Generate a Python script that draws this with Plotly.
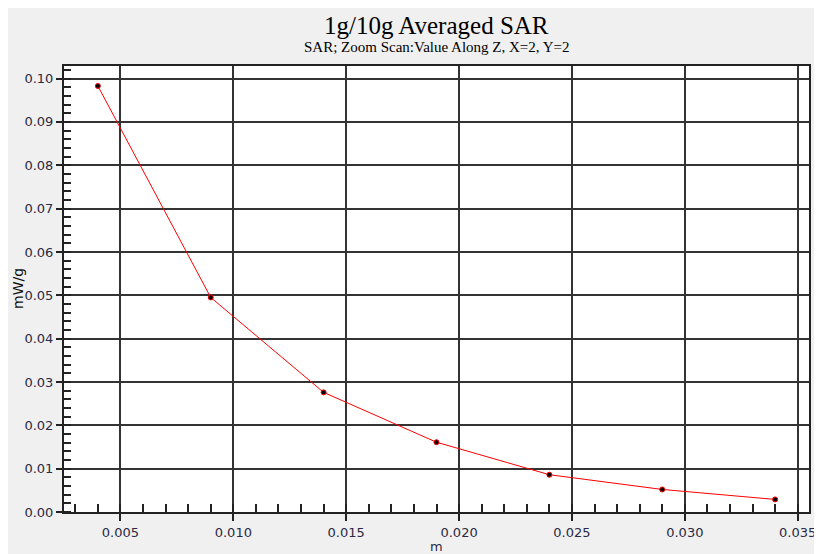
import plotly.graph_objects as go

# Data
depth_m = [0.004, 0.009, 0.014, 0.019, 0.024, 0.029, 0.034]
sar_mw_g = [0.0983, 0.0495, 0.0276, 0.0161, 0.0086, 0.0052, 0.0029]

title_text = "1g/10g Averaged SAR"
subtitle_text = "SAR; Zoom Scan:Value Along Z, X=2, Y=2"
x_title = "m"
y_title = "mW/g"

W, H = 830, 560
L, R, T, B = 56, 29, 58, 56
pw, ph = W - L - R, H - T - B

def px_x(p):
    return (p - L) / pw

def px_y(p):
    return (H - B - p) / ph

fig = go.Figure()
fig.add_trace(go.Scatter(
    x=depth_m, y=sar_mw_g, mode="lines+markers",
    line=dict(color="#ff0000", width=1),
    marker=dict(color="#000000", size=5, line=dict(color="#ff0000", width=1)),
    showlegend=False, cliponaxis=False,
))

tickfont = dict(family="DejaVu Sans, Verdana, sans-serif", size=13, color="#2a2a44")

fig.update_layout(
    width=W, height=H,
    margin=dict(l=L, r=R, t=T, b=B, autoexpand=False),
    paper_bgcolor="#f0f0f0",
    plot_bgcolor="#ffffff",
    showlegend=False,
    xaxis=dict(
        range=[0.0025, 0.0355], tick0=0, dtick=0.005, tickformat=".3f",
        ticks="outside", ticklen=7, tickwidth=1.5, tickcolor="#222222",
        showgrid=True, gridcolor="#333333", gridwidth=1.5,
        showline=True, linecolor="#222222", linewidth=2, mirror=True,
        zeroline=False, tickfont=tickfont,
        minor=dict(dtick=0.001, tick0=0, ticks="inside", ticklen=8,
                   tickwidth=1.5, tickcolor="#222222", showgrid=False),
    ),
    yaxis=dict(
        range=[0, 0.1029], tick0=0, dtick=0.01, tickformat=".2f",
        ticks="outside", ticklen=6, tickwidth=1.5, tickcolor="#222222",
        showgrid=True, gridcolor="#333333", gridwidth=1.5,
        showline=True, linecolor="#222222", linewidth=2, mirror=True,
        zeroline=False, tickfont=tickfont,
        minor=dict(dtick=0.002, tick0=0, ticks="inside", ticklen=7,
                   tickwidth=1.5, tickcolor="#222222", showgrid=False),
    ),
    annotations=[
        dict(text=title_text, xref="paper", yref="paper", x=px_x(428.5), y=px_y(17),
             xanchor="center", yanchor="middle", showarrow=False,
             font=dict(family="Liberation Serif, Times New Roman, serif", size=25, color="#000000")),
        dict(text=subtitle_text, xref="paper", yref="paper", x=px_x(428.5), y=px_y(39),
             xanchor="center", yanchor="middle", showarrow=False,
             font=dict(family="Liberation Serif, Times New Roman, serif", size=15, color="#000000")),
        dict(text=y_title, xref="paper", yref="paper", x=px_x(10), y=0.5,
             xanchor="center", yanchor="middle", showarrow=False, textangle=-90,
             font=dict(family="DejaVu Sans, sans-serif", size=14, color="#111111")),
        dict(text=x_title, xref="paper", yref="paper", x=0.5, y=px_y(538),
             xanchor="center", yanchor="middle", showarrow=False,
             font=dict(family="DejaVu Sans, sans-serif", size=13, color="#2a2a44")),
    ],
)

fig.write_html("out.html", post_script="document.body.style.overflow='hidden';")
